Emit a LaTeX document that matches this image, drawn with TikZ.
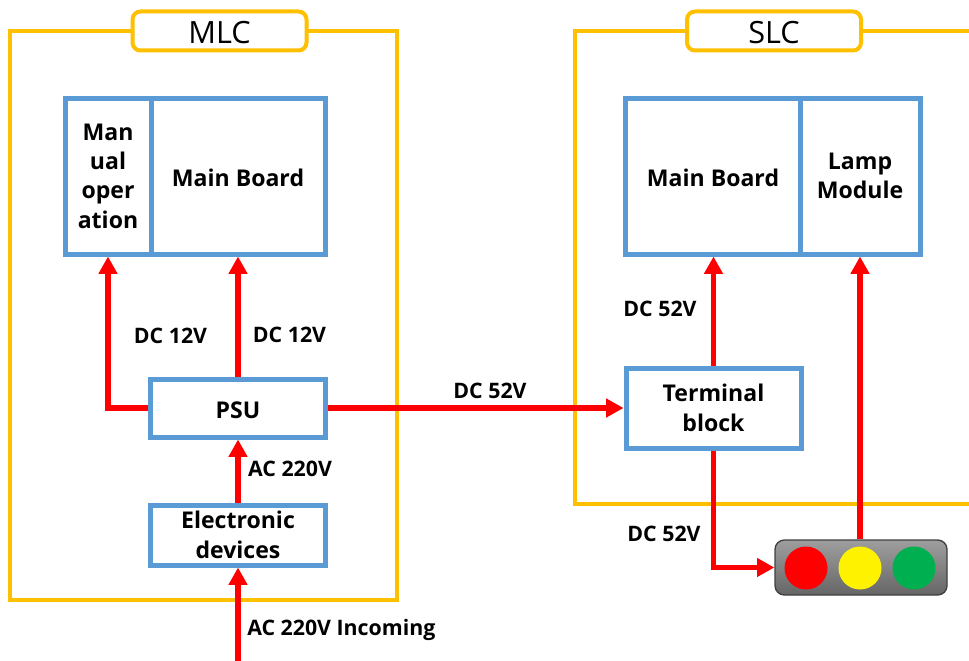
\documentclass[tikz,border=0pt]{standalone}
\usepackage{fontspec}
\setmainfont{Open Sans}
\usetikzlibrary{arrows.meta,calc}
\definecolor{frameor}{HTML}{FFC000}
\definecolor{boxblue}{HTML}{5B9BD5}
\definecolor{sigred}{HTML}{FF0000}
\definecolor{lampgreen}{HTML}{00B050}
\tikzset{
  framepath/.style={draw=frameor,line width=3pt,line join=miter},
  tagbox/.style={draw=frameor,fill=white,line width=3pt,rounded corners=6pt,minimum width=174*0.75pt,minimum height=39*0.75pt,inner sep=0pt,font=\fontsize{23pt}{25pt}\selectfont,text height=18.5pt},
  unit/.style 2 args={draw=boxblue,fill=white,line width=3.75pt,minimum width=#1*0.75pt,minimum height=#2*0.75pt,inner sep=0pt,align=center,font=\bfseries\fontsize{17.3pt}{22pt}\selectfont,execute at begin node={\rule{0pt}{16.5pt}}},
  wire/.style={draw=sigred,line width=4pt},
  wirearrow/.style={wire,-{Triangle[width=13.5pt,length=13pt]}},
  volt/.style={inner sep=0pt,font=\bfseries\fontsize{16pt}{18pt}\selectfont},
  lampbody/.style={draw=black!75,line width=1pt,rounded corners=7pt,top color=black!38,bottom color=black!60,minimum width=172*0.75pt,minimum height=55*0.75pt,inner sep=0pt},
  lampdot/.style={circle,fill=#1,minimum size=43*0.75pt,inner sep=0pt}
}
\begin{document}
\begin{tikzpicture}[x=0.75pt,y=-0.75pt]
\useasboundingbox (0,0) rectangle (969,660);
% frames
\draw[framepath] (10,31) rectangle (397,600);
\draw[framepath] (980,31) -- (575,31) -- (575,504) -- (980,504);
\node[tagbox] (mlc) at (219.5,31) {MLC};
\node[tagbox] (slc) at (774,31) {SLC};
% units
\node[unit={86}{156}] (manual) at (108,176) {Man\\ual\\oper\\ation};
\node[unit={174}{156}] (mainL) at (238,176) {Main Board};
\node[unit={174.5}{58}] (psu) at (238,408) {PSU};
\node[unit={174.5}{60}] (elec) at (238,535) {Electronic\\devices};
\node[unit={175}{156}] (mainR) at (713,176) {Main Board};
\node[unit={120}{156}] (lamp) at (860,176) {Lamp\\Module};
\node[unit={175}{80}] (term) at (713.5,408) {Terminal\\block};
% traffic light
\node[lampbody] (light) at (861,567.5) {};
\node[lampdot=sigred] (redl) at (806,568) {};
\node[lampdot=yellow] (yell) at (860,568) {};
\node[lampdot=lampgreen] (gree) at (914,568) {};
% connectors
\coordinate (inc) at (238,662);
\draw[wirearrow] (psu.west) -| (manual.south);
\draw[wirearrow] (psu.north) -- (mainL.south);
\draw[wirearrow] (elec.north) -- (psu.south);
\draw[wirearrow] (inc) -- (elec.south);
\draw[wirearrow] (psu.east) -- (term.west);
\draw[wirearrow] (term.north) -- (term.north |- mainR.south);
\draw[wirearrow] (term.south) |- (light.west);
\draw[wirearrow] (yell |- light.north) -- (lamp.south);
% labels
\node[volt] (l1) at (170.5,336) {DC 12V};
\node[volt] (l2) at (289.5,335) {DC 12V};
\node[volt] (l3) at (490,391) {DC 52V};
\node[volt] (l4) at (660,309) {DC 52V};
\node[volt] (l5) at (664,534) {DC 52V};
\node[volt] (l6) at (290,469) {AC 220V};
\node[volt,anchor=west] (l7) at (247,630) {AC 220V Incoming};
\end{tikzpicture}
\end{document}
